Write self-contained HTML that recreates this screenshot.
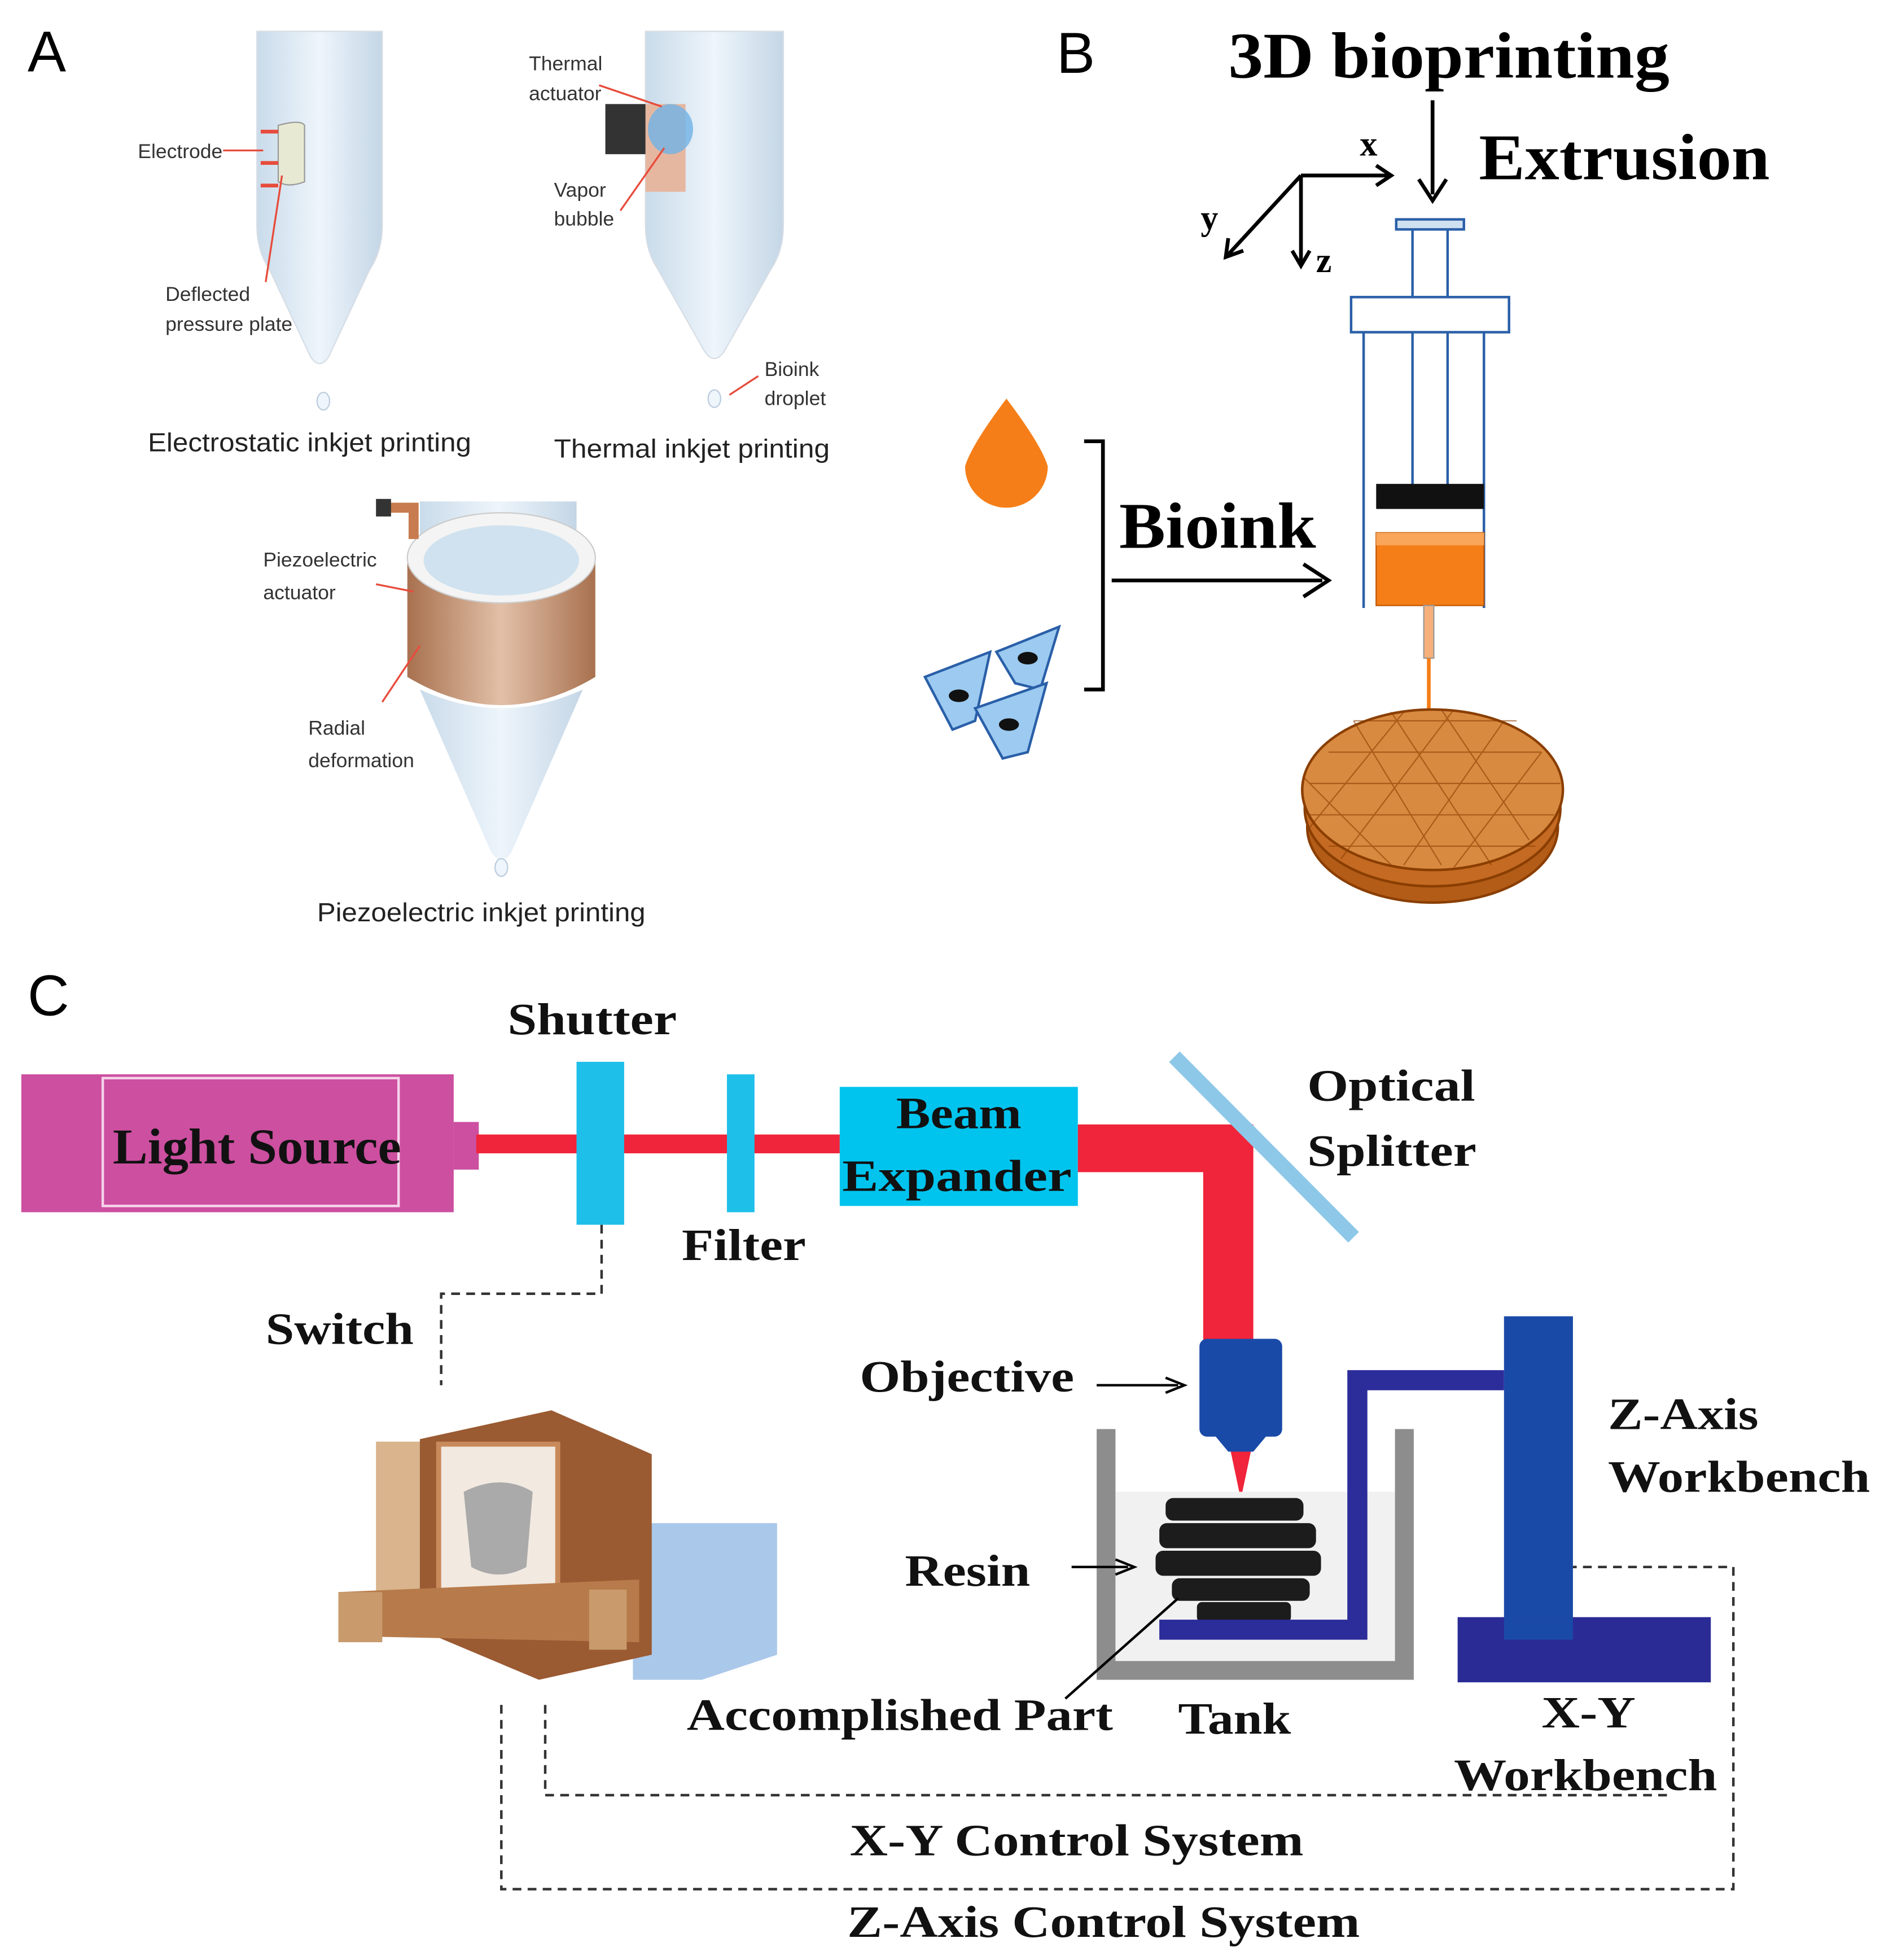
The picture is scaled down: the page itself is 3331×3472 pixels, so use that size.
<!DOCTYPE html>
<html><head><meta charset="utf-8"><style>html,body{margin:0;padding:0;background:#fff}svg{display:block}</style></head>
<body>
<svg width="3331" height="3472" viewBox="0 0 1500 1563.5" preserveAspectRatio="none" xmlns="http://www.w3.org/2000/svg">
<defs>
<linearGradient id="tube" x1="0" x2="1" y1="0" y2="0">
<stop offset="0" stop-color="#c9dbea"/><stop offset="0.5" stop-color="#eef5fb"/><stop offset="1" stop-color="#c4d6e6"/></linearGradient>
<linearGradient id="brown" x1="0" x2="1"><stop offset="0" stop-color="#a8714f"/><stop offset="0.5" stop-color="#e2c0a8"/><stop offset="1" stop-color="#a8714f"/></linearGradient>
</defs>
<rect width="1500" height="1563.5" fill="#fff"/>
<g font-family="Liberation Sans, sans-serif">
<text x="22" y="57" font-size="46">A</text>
<path d="M205 25 H305 V180 Q305 200 295 215 L262 285 Q255 295 248 285 L215 215 Q205 200 205 180Z" fill="url(#tube)" stroke="#d6dde5"/>
<path d="M222 100 Q240 95 243 100 L243 145 Q230 150 222 145Z" fill="#e7e9d2" stroke="#999"/>
<g stroke="#e74c3c" stroke-width="3"><line x1="208" y1="105" x2="222" y2="105"/><line x1="208" y1="130" x2="222" y2="130"/><line x1="208" y1="148" x2="222" y2="148"/><line x1="178" y1="120" x2="210" y2="120" stroke-width="1.5"/><line x1="212" y1="225" x2="225" y2="140" stroke-width="1.5"/></g>
<ellipse cx="258" cy="320" rx="5" ry="7" fill="#eef5fb" stroke="#bcd"/>
<g font-size="16" fill="#333"><text x="110" y="126">Electrode</text><text x="132" y="240">Deflected</text><text x="132" y="264">pressure plate</text>
<text x="422" y="56">Thermal</text><text x="422" y="80">actuator</text><text x="442" y="157">Vapor</text><text x="442" y="180">bubble</text><text x="610" y="300">Bioink</text><text x="610" y="323">droplet</text>
<text x="210" y="452">Piezoelectric</text><text x="210" y="478">actuator</text><text x="246" y="586">Radial</text><text x="246" y="612">deformation</text></g>
<text x="118" y="360" font-size="21" fill="#222" textLength="258" lengthAdjust="spacingAndGlyphs">Electrostatic inkjet printing</text>
<path d="M515 25 H625 V180 Q625 200 615 215 L578 280 Q570 292 562 280 L525 215 Q515 200 515 180Z" fill="url(#tube)" stroke="#d6dde5"/>
<rect x="515" y="83" width="32" height="70" fill="#e6b7a0"/>
<rect x="483" y="83" width="32" height="40" fill="#333"/>
<ellipse cx="535" cy="103" rx="18" ry="20" fill="#6fb3e6" opacity="0.8"/>
<g stroke="#e74c3c" stroke-width="1.5"><line x1="478" y1="68" x2="528" y2="85"/><line x1="495" y1="168" x2="530" y2="118"/><line x1="582" y1="315" x2="605" y2="300"/></g>
<ellipse cx="570" cy="318" rx="5" ry="7" fill="#eef5fb" stroke="#bcd"/>
<text x="442" y="365" font-size="21" fill="#222" textLength="220" lengthAdjust="spacingAndGlyphs">Thermal inkjet printing</text>
<rect x="335" y="400" width="125" height="50" fill="url(#tube)"/>
<path d="M325 445 V540 Q400 585 475 540 V445Z" fill="url(#brown)"/>
<path d="M335 550 L392 680 Q400 692 408 680 L465 550 Q400 580 335 550Z" fill="url(#tube)"/>
<ellipse cx="400" cy="445" rx="75" ry="36" fill="#f4f4f4" stroke="#ccc"/>
<ellipse cx="400" cy="447" rx="62" ry="28" fill="#d0e2ef"/>
<path d="M310 405 H330 V430" fill="none" stroke="#c77b4f" stroke-width="8"/>
<rect x="300" y="398" width="12" height="14" fill="#333"/>
<g stroke="#e74c3c" stroke-width="1.5"><line x1="300" y1="466" x2="330" y2="472"/><line x1="305" y1="560" x2="335" y2="515"/></g>
<ellipse cx="400" cy="692" rx="5" ry="7" fill="#eef5fb" stroke="#bcd"/>
<text x="253" y="735" font-size="21" fill="#222" textLength="262" lengthAdjust="spacingAndGlyphs">Piezoelectric inkjet printing</text>
<text x="843" y="58" font-size="46">B</text>
<text x="22" y="810" font-size="46">C</text>
</g>
<g font-family="Liberation Serif, serif" font-weight="bold">
<text x="980" y="62" font-size="52" textLength="352" lengthAdjust="spacingAndGlyphs">3D bioprinting</text>
<text x="1180" y="143" font-size="52" textLength="232" lengthAdjust="spacingAndGlyphs">Extrusion</text>
<text x="893" y="437" font-size="52" textLength="157" lengthAdjust="spacingAndGlyphs">Bioink</text>
<text x="1085" y="124" font-size="28">x</text><text x="958" y="183" font-size="28">y</text><text x="1050" y="217" font-size="28">z</text>
</g>
<g stroke="#000" stroke-width="3" fill="none">
<line x1="1143" y1="80" x2="1143" y2="155"/><path d="M1132 143 L1143 160 L1154 143"/>
<line x1="1038" y1="140" x2="1108" y2="140"/><path d="M1098 132 L1110 140 L1098 148"/>
<line x1="1038" y1="140" x2="980" y2="203"/><path d="M980 190 L978 205 L992 200"/>
<line x1="1038" y1="140" x2="1038" y2="210"/><path d="M1031 200 L1038 212 L1045 200"/>
<path d="M865 352 H880 V550 H865"/>
<line x1="887" y1="463" x2="1055" y2="463"/><path d="M1040 450 L1060 463 L1040 476"/>
</g>
<g stroke="#2a5fa8" stroke-width="2" fill="none">
<rect x="1114" y="175" width="54" height="8" fill="#cfe0f0"/>
<line x1="1127" y1="183" x2="1127" y2="388"/><line x1="1155" y1="183" x2="1155" y2="388"/>
<rect x="1078" y="237" width="126" height="28" fill="#fff"/>
<line x1="1088" y1="265" x2="1088" y2="485"/><line x1="1184" y1="265" x2="1184" y2="485"/>
</g>
<rect x="1098" y="386" width="86" height="20" fill="#111"/>
<rect x="1098" y="425" width="86" height="58" fill="#f57e18" stroke="#c05500"/>
<rect x="1098" y="425" width="86" height="10" fill="#f9a55a"/>
<rect x="1136" y="483" width="8" height="42" fill="#f7b07a" stroke="#999"/>
<line x1="1140" y1="525" x2="1140" y2="592" stroke="#f57e18" stroke-width="3"/>
<g stroke="#8a3e00" stroke-width="2">
<ellipse cx="1143" cy="660" rx="100" ry="60" fill="#b35c18"/>
<ellipse cx="1143" cy="645" rx="102" ry="62" fill="#c46a22"/>
<ellipse cx="1143" cy="630" rx="104" ry="64" fill="#d88a40"/>
</g>
<g stroke="#8a3e00" stroke-width="1" opacity="0.6" fill="none">
<path d="M1060 600 L1230 600 M1045 625 L1245 625 M1045 650 L1240 650 M1060 675 L1225 675 M1080 575 L1210 575"/>
<path d="M1080 575 L1150 690 M1110 568 L1190 690 M1150 566 L1220 670 M1040 620 L1110 690 M1200 575 L1120 690 M1230 600 L1160 692 M1160 566 L1070 685 M1120 568 L1045 660"/>
</g>
<path d="M803 318 Q775 355 770 372 A33 33 0 1 0 836 372 Q831 355 803 318Z" fill="#f57e18"/>
<g fill="#9ccaf0" stroke="#2a5fa8" stroke-width="2">
<path d="M795 520 L845 500 L830 550 L810 545Z"/><path d="M738 540 L790 520 L778 575 L760 582Z"/><path d="M778 565 L835 545 L820 600 L800 605Z"/>
</g>
<g fill="#111"><ellipse cx="820" cy="525" rx="8" ry="5"/><ellipse cx="765" cy="555" rx="8" ry="5"/><ellipse cx="805" cy="578" rx="8" ry="5"/></g>

<rect x="17" y="857" width="345" height="110" fill="#cc4fa0"/>
<rect x="82" y="860" width="236" height="102" fill="none" stroke="#f6d4ea" stroke-width="2"/>
<rect x="362" y="895" width="20" height="38" fill="#cc4fa0"/>
<rect x="380" y="905" width="290" height="15" fill="#f0243a"/>
<rect x="460" y="847" width="38" height="130" fill="#1ec0ea"/>
<rect x="580" y="857" width="22" height="110" fill="#1ec0ea"/>
<rect x="670" y="867" width="190" height="95" fill="#00c4ee"/>
<path d="M860 897 H1000 V1070 H960 V935 H860Z" fill="#f0243a"/>
<line x1="937" y1="843" x2="1080" y2="987" stroke="#8ec8e8" stroke-width="12"/>
<rect x="957" y="1068" width="66" height="78" rx="6" fill="#1a4aa8"/>
<path d="M965 1140 H1015 L1000 1158 H980Z" fill="#1a4aa8"/>
<path d="M982 1158 H998 L990 1196Z" fill="#f0243a"/>
<rect x="890" y="1190" width="223" height="135" fill="#f1f1f1"/>
<path d="M875 1140 H890 V1325 H1113 V1140 H1128 V1340 H875Z" fill="#8d8d8d"/>
<g fill="#1c1c1c">
<rect x="930" y="1195" width="110" height="18" rx="6"/><rect x="925" y="1215" width="125" height="20" rx="6"/>
<rect x="922" y="1237" width="132" height="20" rx="6"/><rect x="935" y="1259" width="110" height="18" rx="6"/>
<rect x="955" y="1278" width="75" height="16" rx="4"/></g>
<path d="M925 1300 H1083 V1101 H1200" fill="none" stroke="#2c2c9a" stroke-width="16"/>
<rect x="1200" y="1050" width="55" height="258" fill="#1a4aa8"/>
<rect x="1163" y="1290" width="202" height="52" fill="#2b2b96"/>
<rect x="1200" y="1290" width="55" height="18" fill="#1a4aa8"/>
<path d="M505 1215 L620 1215 L620 1320 L560 1340 L505 1340Z" fill="#aac8ea"/>
<rect x="300" y="1150" width="40" height="120" fill="#d9b48c"/>
<path d="M335 1148 L440 1125 L520 1160 L520 1320 L430 1340 L335 1300Z" fill="#9a5a32"/>
<rect x="350" y="1152" width="95" height="150" fill="#f2e9e0" stroke="#c88a5a" stroke-width="4"/>
<path d="M370 1190 Q400 1175 425 1190 L420 1250 Q398 1262 376 1250Z" fill="#aaa"/>
<path d="M270 1270 L510 1260 L510 1310 L270 1305Z" fill="#b77a4a"/>
<rect x="270" y="1270" width="35" height="40" fill="#c89a6c"/>
<rect x="470" y="1268" width="30" height="48" fill="#c89a6c"/>
<g stroke="#000" stroke-width="2" fill="none">
<line x1="875" y1="1105" x2="940" y2="1105"/><path d="M930 1099 L945 1105 L930 1111"/>
<line x1="855" y1="1250" x2="900" y2="1250"/><path d="M890 1244 L905 1250 L890 1256"/>
<line x1="850" y1="1355" x2="940" y2="1275"/>
</g>
<g stroke="#333" stroke-width="2" fill="none" stroke-dasharray="7 5">
<path d="M480 977 V1032 H352 V1105"/>
<path d="M435 1360 V1432 H1330"/>
<path d="M400 1360 V1507 H1383 V1250 H1255"/>
</g>
<g font-family="Liberation Serif, serif" font-weight="bold" font-size="36" fill="#111" lengthAdjust="spacingAndGlyphs">
<text x="405" y="825" textLength="135" lengthAdjust="spacingAndGlyphs">Shutter</text>
<text x="90" y="928" font-size="40" textLength="230" lengthAdjust="spacingAndGlyphs">Light Source</text>
<text x="715" y="900" textLength="100" lengthAdjust="spacingAndGlyphs">Beam</text>
<text x="672" y="950" textLength="183" lengthAdjust="spacingAndGlyphs">Expander</text>
<text x="1043" y="878" textLength="134" lengthAdjust="spacingAndGlyphs">Optical</text><text x="1043" y="930" textLength="135" lengthAdjust="spacingAndGlyphs">Splitter</text>
<text x="544" y="1005" textLength="99" lengthAdjust="spacingAndGlyphs">Filter</text>
<text x="212" y="1072" textLength="118" lengthAdjust="spacingAndGlyphs">Switch</text>
<text x="686" y="1110" textLength="171" lengthAdjust="spacingAndGlyphs">Objective</text>
<text x="1283" y="1140" textLength="120" lengthAdjust="spacingAndGlyphs">Z-Axis</text><text x="1283" y="1190" textLength="209" lengthAdjust="spacingAndGlyphs">Workbench</text>
<text x="722" y="1265" textLength="100" lengthAdjust="spacingAndGlyphs">Resin</text>
<text x="548" y="1380" textLength="340" lengthAdjust="spacingAndGlyphs">Accomplished Part</text>
<text x="940" y="1383" textLength="90" lengthAdjust="spacingAndGlyphs">Tank</text>
<text x="1230" y="1378" textLength="75" lengthAdjust="spacingAndGlyphs">X-Y</text><text x="1160" y="1428" textLength="210" lengthAdjust="spacingAndGlyphs">Workbench</text>
<text x="678" y="1480" textLength="362" lengthAdjust="spacingAndGlyphs">X-Y Control System</text>
<text x="676" y="1545" textLength="409" lengthAdjust="spacingAndGlyphs">Z-Axis Control System</text>
</g>
</svg>
</body></html>
